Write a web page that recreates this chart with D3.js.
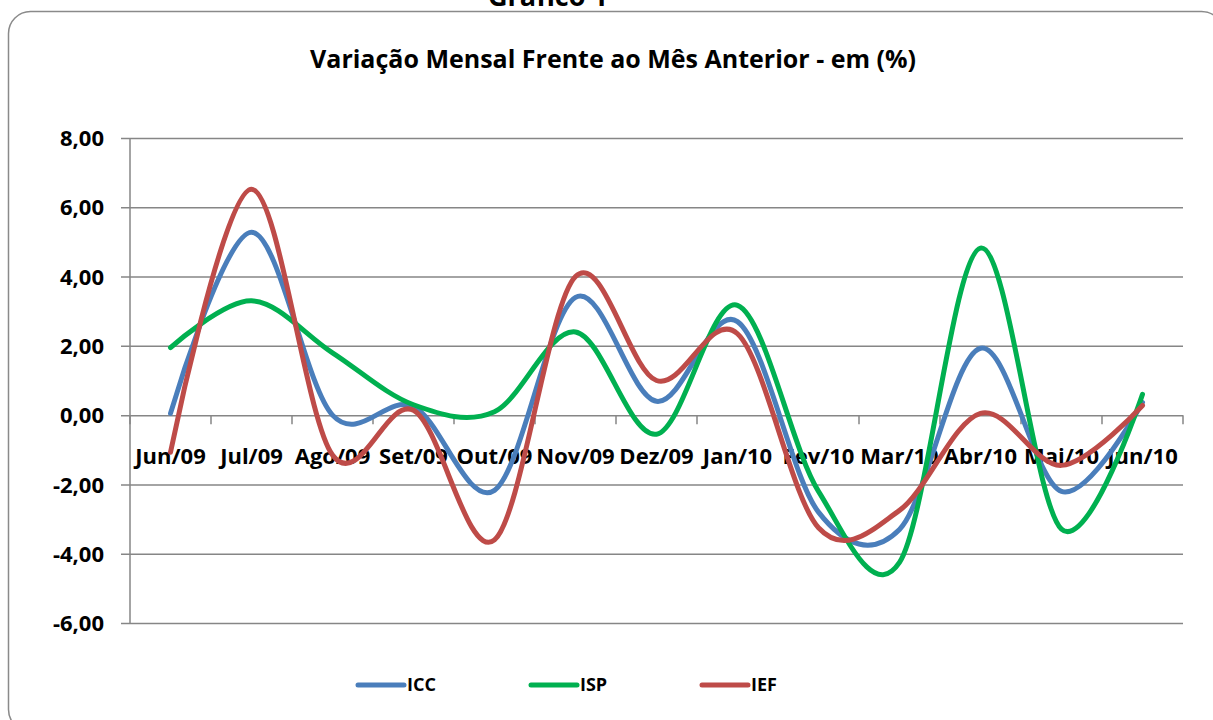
<!DOCTYPE html>
<html>
<head>
<meta charset="utf-8">
<script src="https://cdn.jsdelivr.net/npm/d3@7"></script>
<style>
  body { margin: 0; background: #fff; }
  text { font-family: "Open Sans", Lato, sans-serif; font-weight: 700; fill: #000; }
</style>
</head>
<body>
<div id="chart"></div>
<script>
// months on the category axis
const months = ["Jun/09", "Jul/09", "Ago/09", "Set/09", "Out/09", "Nov/09", "Dez/09",
                "Jan/10", "Fev/10", "Mar/10", "Abr/10", "Mai/10", "Jun/10"];

// monthly variation (%)
const icc = [0.05, 5.28, 0.0, 0.25, -2.17, 3.40, 0.40, 2.70, -2.80, -3.30, 1.93, -2.20, 0.37];
const isp = [1.95, 3.30, 1.80, 0.30, 0.10, 2.40, -0.55, 3.17, -2.20, -4.25, 4.82, -3.29, 0.60];
const ief = [-1.07, 6.52, -1.15, 0.14, -3.60, 4.00, 1.00, 2.35, -3.25, -2.75, 0.05, -1.45, 0.28];

const yTicks = [-6, -4, -2, 0, 2, 4, 6, 8];

const seriesNames = ["ICC", "ISP", "IEF"];
const seriesColours = ["#4A7EBB", "#00B050", "#BE4B48"];

const width = 1213;
const height = 720;

const svg = d3.select("#chart")
    .append("svg")
    .attr("width", width)
    .attr("height", height);

// outer rounded frame, runs off the right edge like the original
svg.append("rect")
    .attr("x", 8.5).attr("y", 11.5)
    .attr("width", 1215).attr("height", 720)
    .attr("rx", 22).attr("ry", 22)
    .attr("fill", "none")
    .attr("stroke", "#8a8a8a")
    .attr("stroke-width", 1.5);

// heading from the page above, cut by the frame top
svg.append("text")
    .attr("x", 548).attr("y", 6)
    .attr("text-anchor", "middle")
    .style("font-size", "27px")
    .text("Gráfico 1");

svg.append("text")
    .attr("x", 613).attr("y", 68)
    .attr("text-anchor", "middle")
    .style("font-size", "25px")
    .text("Variação Mensal Frente ao Mês Anterior - em (%)");

const plot = { left: 130, right: 1183, top: 138, bottom: 623 };

const x = d3.scaleBand()
    .domain(months)
    .range([plot.left, plot.right])
    .padding(0);

const y = d3.scaleLinear()
    .domain([-6, 8])
    .range([plot.bottom, plot.top]);

// horizontal gridlines + y axis labels
const yAxis = d3.axisLeft(y)
    .tickValues(yTicks)
    .tickSize(-(plot.right - plot.left))
    .tickPadding(26)
    .tickFormat(d => d3.format(".2f")(d).replace(".", ",").replace("−", "-"));

const gy = svg.append("g")
    .attr("transform", `translate(${plot.left},0)`)
    .call(yAxis);
gy.select(".domain").remove();
gy.selectAll(".tick line")
    .attr("x1", -9)
    .attr("stroke", "#868686")
    .attr("stroke-width", 1.5);
gy.selectAll(".tick text")
    .style("font-size", "22px")
    .attr("dy", "0.35em");

// vertical axis line
svg.append("line")
    .attr("x1", plot.left).attr("x2", plot.left)
    .attr("y1", plot.top).attr("y2", plot.bottom)
    .attr("stroke", "#868686")
    .attr("stroke-width", 1.5);

// category axis sits on zero
const boundaries = months.map(m => x(m)).concat([plot.right]);
svg.append("g")
    .selectAll("line")
    .data(boundaries)
    .enter()
    .append("line")
    .attr("x1", d => d).attr("x2", d => d)
    .attr("y1", y(0)).attr("y2", y(0) + 9)
    .attr("stroke", "#868686")
    .attr("stroke-width", 1.5);

svg.append("g")
    .selectAll("text")
    .data(months)
    .enter()
    .append("text")
    .attr("x", d => x(d) + x.bandwidth() / 2)
    .attr("y", y(0) + 49)
    .attr("text-anchor", "middle")
    .style("font-size", "22px")
    .text(d => d);

// smoothed lines, like Excel's "smoothed line" option
const line = d3.line()
    .x((d, i) => x(months[i]) + x.bandwidth() / 2)
    .y(d => y(d))
    .curve(d3.curveCardinal.tension(0));

const allSeries = [icc, isp, ief];

svg.append("g")
    .selectAll("path")
    .data(allSeries)
    .enter()
    .append("path")
    .attr("d", d => line(d))
    .attr("fill", "none")
    .attr("stroke", (d, i) => seriesColours[i])
    .attr("stroke-width", 5)
    .attr("stroke-linejoin", "round")
    .attr("stroke-linecap", "round");

// legend
const legendX = [358, 531, 702];
const legend = svg.append("g")
    .selectAll("g")
    .data(seriesNames)
    .enter()
    .append("g")
    .attr("transform", (d, i) => `translate(${legendX[i]},685)`);

legend.append("line")
    .attr("x1", 0).attr("x2", 46)
    .attr("stroke", (d, i) => seriesColours[i])
    .attr("stroke-width", 5)
    .attr("stroke-linecap", "round");

legend.append("text")
    .attr("x", 49)
    .attr("dy", "0.35em")
    .style("font-size", "18px")
    .text(d => d);
</script>
</body>
</html>
